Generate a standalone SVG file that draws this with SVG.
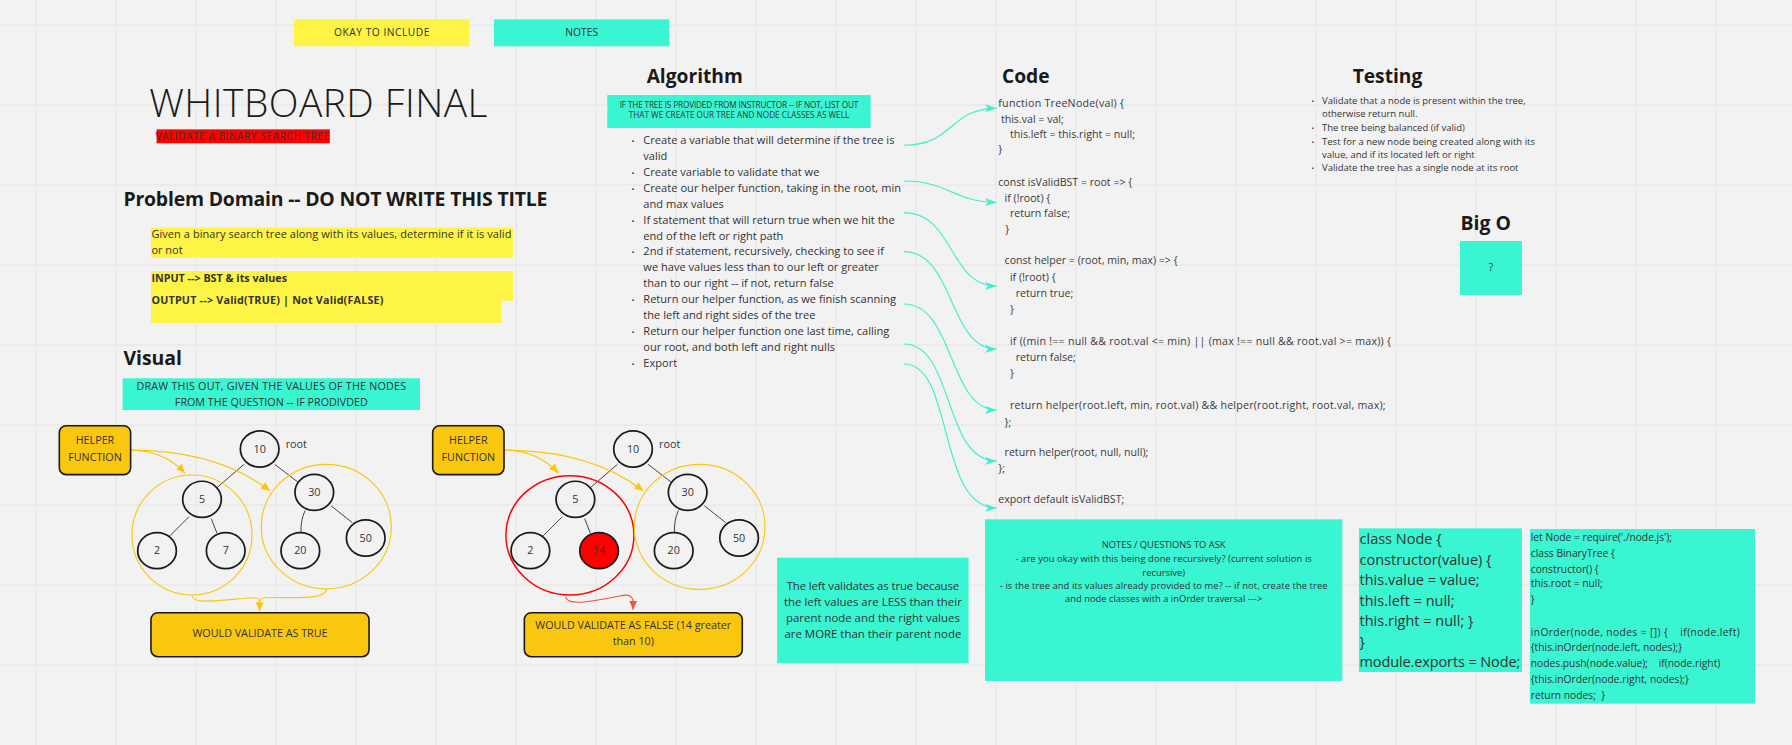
<svg xmlns="http://www.w3.org/2000/svg" width="1792" height="745" viewBox="0 0 1792 745">
<defs>
<style>
.t{font-family:"Open Sans","Liberation Sans",sans-serif;fill:#333}
.h{font-family:"Open Sans","Liberation Sans",sans-serif;font-weight:700;fill:#1a1a1a}
.c{font-family:"Open Sans","Liberation Sans",sans-serif;fill:#3a3a3a;font-size:9.3px}
.m{text-anchor:middle}
.teal{fill:#3af5d2}
.yel{fill:#fef445}
.obox{fill:#fac710;stroke:#1a1a1a;stroke-width:1.4}
.node{fill:none;stroke:#1a1a1a;stroke-width:1.5}
.edge{fill:none;stroke:#333;stroke-width:0.8}
.tc{fill:none;stroke:#3ef0cf;stroke-width:1}
.oc{fill:none;stroke:#fac710;stroke-width:1}
.grid{stroke:#e4e4e4;stroke-width:1}
</style>
<marker id="ah-teal" markerUnits="userSpaceOnUse" markerWidth="12" markerHeight="8" refX="10" refY="3.5" orient="auto">
<path d="M0,0 L10,3.5 L0,7 L2.5,3.5 Z" fill="#3ef0cf"/>
</marker>
<marker id="ah-or" markerUnits="userSpaceOnUse" markerWidth="10" markerHeight="8" refX="8" refY="3.5" orient="auto">
<path d="M0,0 L8,3.5 L0,7 Z" fill="#fac710"/>
</marker>
<marker id="ah-red" markerUnits="userSpaceOnUse" markerWidth="10" markerHeight="8" refX="8" refY="3.5" orient="auto">
<path d="M0,0 L8,3.5 L0,7 Z" fill="#f0533a"/>
</marker>
</defs>
<rect width="1792" height="745" fill="#f2f2f2"/>
<g id="grid" class="grid">
<path d="M36,0V745M116,0V745M196,0V745M276,0V745M356,0V745M436,0V745M516,0V745M596,0V745M676,0V745M756,0V745M836,0V745M916,0V745M996,0V745M1076,0V745M1156,0V745M1236,0V745M1316,0V745M1396,0V745M1476,0V745M1556,0V745M1636,0V745M1716,0V745"/>
<path d="M0,25H1792M0,105H1792M0,185H1792M0,265H1792M0,345H1792M0,425H1792M0,505H1792M0,585H1792M0,665H1792"/>
</g>
<g transform="scale(1.142857)">
<g id="legend-okay">
<rect class="yel" x="257.2" y="16.9" width="153.4" height="23.6"/>
<text class="t m" x="334" y="31.5" font-size="9" textLength="83.4">OKAY TO INCLUDE</text>
</g>
<g id="legend-notes">
<rect class="teal" x="432.2" y="16.9" width="153.4" height="23.6"/>
<text class="t m" x="509" y="31.5" font-size="9">NOTES</text>
</g>
<g id="title">
<text x="130.5" y="102.7" font-family="'Open Sans','Liberation Sans',sans-serif" font-weight="300" font-size="34" fill="#1a1a1a" textLength="296">WHITBOARD FINAL</text>
<rect x="137" y="113.2" width="151.6" height="12.2" fill="#ff0000"/>
<text class="t" x="136" y="122.5" font-size="9" fill="#222" textLength="152">VALIDATE A BINARY SEARCH TREE</text>
</g>
<g id="problem-domain">
<text class="h" x="108" y="180" font-size="17" textLength="371">Problem Domain -- DO NOT WRITE THIS TITLE</text>
<rect class="yel" x="132.1" y="199.2" width="316.8" height="26.3"/>
<text class="t" x="132.5" y="208.5" font-size="9.6" textLength="315">Given a binary search tree along with its values, determine if it is valid</text>
<text class="t" x="132.5" y="222.5" font-size="9.6">or not</text>
<path class="yel" d="M132.1,237.1H448.9V263.1H438.7V282.6H132.1Z"/>
<text class="t" x="132.5" y="246.5" font-size="9.4" font-weight="700" fill="#222">INPUT --&gt; BST &amp; its values</text>
<text class="t" x="132.5" y="265.7" font-size="9.4" font-weight="700" fill="#222" textLength="203">OUTPUT --&gt; Valid(TRUE) | Not Valid(FALSE)</text>
</g>
<g id="visual">
<text class="h" x="108" y="319" font-size="17">Visual</text>
<rect class="teal" x="107.3" y="331" width="260.2" height="27.75"/>
<text class="t m" x="237.4" y="341.25" font-size="9.4" textLength="236">DRAW THIS OUT, GIVEN THE VALUES OF THE NODES</text>
<text class="t m" x="237.4" y="355.25" font-size="9.4">FROM THE QUESTION -- IF PRODIVDED</text>
</g>
<g id="connectors">
<path class="edge" d="M213.5,406.3L189.9,426.7M240.4,406.3L260.5,421.75M165.4,452.1L148.5,469M184.9,453.9L189.9,466.7M266.9,446.8Q263,455 263.4,466M289.6,442.5L308.3,457.3"/>
<path class="edge" d="M540.2,406.3L516.6,426.7M567.1,406.3L587.2,421.75M492.1,452.1L475.2,469M511.6,453.9L516.6,466.7M593.6,446.8Q589.7,455 590.1,466M616.3,442.5L635,457.3"/>
<path class="oc" d="M114.3,393.8C135,394 150,401 161.9,414" marker-end="url(#ah-or)"/>
<path class="oc" d="M114.3,393.8C165,394 205,405 236.3,429.6" marker-end="url(#ah-or)"/>
<path class="oc" d="M441,393.8C461.7,394 476.7,401 488.6,414" marker-end="url(#ah-or)"/>
<path class="oc" d="M441,393.8C491.7,394 531.7,405 563,429.6" marker-end="url(#ah-or)"/>
<path class="oc" d="M168,521.5C169,530 200,524 222,523C226,523 227.2,525 227.2,528L227.2,535" marker-end="url(#ah-or)"/>
<path class="oc" d="M285.5,515.6C285.5,526 250,522 232,523C228,523 227.2,525 227.2,528"/>
<path fill="none" stroke="#f0533a" stroke-width="1" d="M495,522C496,531 520,526 545,521C551,520 554,523 554,526L554,533.5" marker-end="url(#ah-red)"/>
<path class="tc" d="M791,127.1C835,127.1 830,94.8 872,94.8" marker-end="url(#ah-teal)"/>
<path class="tc" d="M791,158.4C830,158.4 835,177 872,177" marker-end="url(#ah-teal)"/>
<path class="tc" d="M791,186.1C835,186.1 830,250.3 872,250.3" marker-end="url(#ah-teal)"/>
<path class="tc" d="M791,220.2C835,220.2 830,305.4 872,305.4" marker-end="url(#ah-teal)"/>
<path class="tc" d="M791,266C835,266 830,358.75 872,358.75" marker-end="url(#ah-teal)"/>
<path class="tc" d="M791,301C835,301 825,403.3 872,403.3" marker-end="url(#ah-teal)"/>
<path class="tc" d="M791,318.5C835,318.5 820,444.5 872,444.5" marker-end="url(#ah-teal)"/>
</g>
<g id="helper-left">
<rect class="obox" x="51.9" y="372.5" width="62.4" height="42.8" rx="6"/>
<text class="t m" x="83.1" y="388.8" font-size="9.4">HELPER</text>
<text class="t m" x="83.1" y="403.1" font-size="9.4">FUNCTION</text>
</g>
<g id="tree-left">
<ellipse class="oc" cx="168" cy="468.1" rx="52.5" ry="52.5" stroke-width="1.3"/>
<ellipse class="oc" cx="285.5" cy="460.8" rx="56.9" ry="54.5" stroke-width="1.3"/>
<g id="l-n10"><ellipse class="node" cx="227.2" cy="392.9" rx="16.9" ry="15.8"/><text class="t m" x="227.2" y="396.2" font-size="9.4">10</text></g>
<text class="t" x="250" y="391.7" font-size="9.4">root</text>
<g id="l-n5"><ellipse class="node" cx="176.75" cy="436.9" rx="16.9" ry="15.8"/><text class="t m" x="176.75" y="440.2" font-size="9.4">5</text></g>
<g id="l-n2"><ellipse class="node" cx="137.4" cy="481.8" rx="16.9" ry="15.8"/><text class="t m" x="137.4" y="485.1" font-size="9.4">2</text></g>
<g id="l-n7"><ellipse class="node" cx="197.5" cy="481.8" rx="16.9" ry="15.8"/><text class="t m" x="197.5" y="485.1" font-size="9.4">7</text></g>
<g id="l-n30"><ellipse class="node" cx="275" cy="430.8" rx="16.9" ry="15.8"/><text class="t m" x="275" y="434.1" font-size="9.4">30</text></g>
<g id="l-n20"><ellipse class="node" cx="262.8" cy="481.8" rx="16.9" ry="15.8"/><text class="t m" x="262.8" y="485.1" font-size="9.4">20</text></g>
<g id="l-n50"><ellipse class="node" cx="320" cy="470.75" rx="16.9" ry="15.8"/><text class="t m" x="320" y="474" font-size="9.4">50</text></g>
</g>
<g id="result-true">
<rect class="obox" x="132.1" y="536.1" width="190.8" height="38.5" rx="6"/>
<text class="t m" x="227.5" y="557.6" font-size="9.4">WOULD VALIDATE AS TRUE</text>
</g>
<g id="helper-right">
<rect class="obox" x="378.6" y="372.5" width="62.4" height="42.8" rx="6"/>
<text class="t m" x="409.8" y="388.8" font-size="9.4">HELPER</text>
<text class="t m" x="409.8" y="403.1" font-size="9.4">FUNCTION</text>
</g>
<g id="tree-right">
<ellipse cx="498.7" cy="468.4" rx="56" ry="52.2" fill="none" stroke="#ff0000" stroke-width="1.3"/>
<ellipse class="oc" cx="612.2" cy="461" rx="57.2" ry="54.7" stroke-width="1.3"/>
<g id="r-n10"><ellipse class="node" cx="553.9" cy="392.9" rx="16.9" ry="15.8"/><text class="t m" x="553.9" y="396.2" font-size="9.4">10</text></g>
<text class="t" x="576.7" y="391.7" font-size="9.4">root</text>
<g id="r-n5"><ellipse class="node" cx="503.45" cy="436.9" rx="16.9" ry="15.8"/><text class="t m" x="503.45" y="440.2" font-size="9.4">5</text></g>
<g id="r-n2"><ellipse class="node" cx="464.1" cy="481.8" rx="16.9" ry="15.8"/><text class="t m" x="464.1" y="485.1" font-size="9.4">2</text></g>
<g id="r-n14"><ellipse class="node" cx="524.2" cy="481.8" rx="16.9" ry="15.8" style="fill:#ff0000"/><text class="t m" x="524.2" y="485.1" font-size="9.4">14</text></g>
<g id="r-n30"><ellipse class="node" cx="601.7" cy="430.8" rx="16.9" ry="15.8"/><text class="t m" x="601.7" y="434.1" font-size="9.4">30</text></g>
<g id="r-n20"><ellipse class="node" cx="589.5" cy="481.8" rx="16.9" ry="15.8"/><text class="t m" x="589.5" y="485.1" font-size="9.4">20</text></g>
<g id="r-n50"><ellipse class="node" cx="646.7" cy="470.75" rx="16.9" ry="15.8"/><text class="t m" x="646.7" y="474" font-size="9.4">50</text></g>
</g>
<g id="result-false">
<rect class="obox" x="458.8" y="536.1" width="190.7" height="38.5" rx="6"/>
<text class="t m" x="554.1" y="550.7" font-size="9.4">WOULD VALIDATE AS FALSE (14 greater</text>
<text class="t m" x="554.1" y="564.4" font-size="9.4">than 10)</text>
</g>
<g id="explain">
<rect class="teal" x="680" y="488" width="167.5" height="92.4"/>
<text class="t m" x="763.8" y="516.5" font-size="10" textLength="151">The left validates as true because</text>
<text class="t m" x="763.8" y="530" font-size="10">the left values are LESS than their</text>
<text class="t m" x="763.8" y="544" font-size="10">parent node and the right values</text>
<text class="t m" x="763.8" y="558" font-size="10">are MORE than their parent node</text>
</g>
<g id="algorithm">
<text class="h" x="565.8" y="72.9" font-size="16.8">Algorithm</text>
<rect class="teal" x="531.4" y="83.1" width="230.4" height="28.9"/>
<text class="t m" x="646.6" y="94.2" font-size="7.2" textLength="208.8">IF THE TREE IS PROVIDED FROM INSTRUCTOR -- IF NOT, LIST OUT</text>
<text class="t m" x="646.6" y="103.25" font-size="7.2">THAT WE CREATE OUR TREE AND NODE CLASSES AS WELL</text>
<g class="t" font-size="9.7">
<text x="552.5" y="126.3" font-size="7">•</text>
<text x="562.9" y="126.3">Create a variable that will determine if the tree is</text>
<text x="562.9" y="140.3">valid</text>
<text x="552.5" y="154" font-size="7">•</text>
<text x="562.9" y="154">Create variable to validate that we</text>
<text x="552.5" y="168" font-size="7">•</text>
<text x="562.9" y="168" textLength="225.5">Create our helper function, taking in the root, min</text>
<text x="562.9" y="182">and max values</text>
<text x="552.5" y="196" font-size="7">•</text>
<text x="562.9" y="196">If statement that will return true when we hit the</text>
<text x="562.9" y="210">end of the left or right path</text>
<text x="552.5" y="223.4" font-size="7">•</text>
<text x="562.9" y="223.4">2nd if statement, recursively, checking to see if</text>
<text x="562.9" y="237.4">we have values less than to our left or greater</text>
<text x="562.9" y="251.1">than to our right -- if not, return false</text>
<text x="552.5" y="265.1" font-size="7">•</text>
<text x="562.9" y="265.1">Return our helper function, as we finish scanning</text>
<text x="562.9" y="279.1">the left and right sides of the tree</text>
<text x="552.5" y="293.1" font-size="7">•</text>
<text x="562.9" y="293.1">Return our helper function one last time, calling</text>
<text x="562.9" y="306.8">our root, and both left and right nulls</text>
<text x="552.5" y="321.1" font-size="7">•</text>
<text x="562.9" y="321.1">Export</text>
</g>
</g>
<g id="code">
<text class="h" x="876.7" y="72.4" font-size="16.8">Code</text>
<text class="c" x="873.5" y="93.4" textLength="110">function TreeNode(val) {</text>
<text class="c" x="875.8" y="107.5">this.val = val;</text>
<text class="c" x="883.7" y="121.05">this.left = this.right = null;</text>
<text class="c" x="873.5" y="134.2">}</text>
<text class="c" x="873.5" y="162.4">const isValidBST = root =&gt; {</text>
<text class="c" x="879" y="176.5">if (!root) {</text>
<text class="c" x="883.7" y="190.2">return false;</text>
<text class="c" x="879.5" y="204.2">}</text>
<text class="c" x="879" y="231.2">const helper = (root, min, max) =&gt; {</text>
<text class="c" x="883.7" y="245.8">if (!root) {</text>
<text class="c" x="888.7" y="259.6">return true;</text>
<text class="c" x="883.7" y="274.2">}</text>
<text class="c" x="883.7" y="301.9" textLength="333.4">if ((min !== null &amp;&amp; root.val &lt;= min) || (max !== null &amp;&amp; root.val &gt;= max)) {</text>
<text class="c" x="888.7" y="315.6">return false;</text>
<text class="c" x="883.7" y="330.2">}</text>
<text class="c" x="883.7" y="357.9" textLength="328.7">return helper(root.left, min, root.val) &amp;&amp; helper(root.right, root.val, max);</text>
<text class="c" x="879" y="372.4">};</text>
<text class="c" x="879" y="399">return helper(root, null, null);</text>
<text class="c" x="873.5" y="413">};</text>
<text class="c" x="873.5" y="440.4">export default isValidBST;</text>
</g>
<g id="testing">
<text class="h" x="1183.6" y="72.4" font-size="16.8">Testing</text>
<g class="t" font-size="8.3">
<text x="1147.5" y="91" font-size="6">•</text>
<text x="1156.75" y="91">Validate that a node is present within the tree,</text>
<text x="1156.75" y="102.7">otherwise return null.</text>
<text x="1147.5" y="114.4" font-size="6">•</text>
<text x="1156.75" y="114.4">The tree being balanced (if valid)</text>
<text x="1147.5" y="126.6" font-size="6">•</text>
<text x="1156.75" y="126.6" textLength="186.4">Test for a new node being created along with its</text>
<text x="1156.75" y="138.6">value, and if its located left or right</text>
<text x="1147.5" y="149.9" font-size="6">•</text>
<text x="1156.75" y="149.9">Validate the tree has a single node at its root</text>
</g>
</g>
<g id="big-o">
<text class="h" x="1278" y="201.25" font-size="17">Big O</text>
<rect class="teal" x="1277.5" y="210.9" width="54.2" height="47.2"/>
<text class="t m" x="1304.6" y="236.9" font-size="9">?</text>
</g>
<g id="notes-questions">
<rect class="teal" x="861.9" y="454.4" width="312.6" height="141.5"/>
<text class="t m" x="1018.2" y="479.8" font-size="8.2">NOTES / QUESTIONS TO ASK</text>
<text class="t m" x="1018.2" y="491.4" font-size="8.2" textLength="259.3">- are you okay with this being done recursively? (current solution is</text>
<text class="t m" x="1018.2" y="503.7" font-size="8.2">recursive)</text>
<text class="t m" x="1018.2" y="515.3" font-size="8.2" textLength="286.7">- is the tree and its values already provided to me? -- if not, create the tree</text>
<text class="t m" x="1018.2" y="527" font-size="8.2">and node classes with a inOrder traversal ---&gt;</text>
</g>
<g id="class-node">
<rect class="teal" x="1189.1" y="462.3" width="142.6" height="125.7"/>
<g class="t" font-size="12.7">
<text x="1189.6" y="476.3">class Node {</text>
<text x="1189.6" y="494.7">constructor(value) {</text>
<text x="1189.6" y="512.2">this.value = value;</text>
<text x="1189.6" y="530">this.left = null;</text>
<text x="1189.6" y="547.75">this.right = null; }</text>
<text x="1189.6" y="565.8">}</text>
<text x="1189.6" y="583.7" textLength="140.6">module.exports = Node;</text>
</g>
</g>
<g id="class-binarytree">
<rect class="teal" x="1338.7" y="462.9" width="196.9" height="152.8"/>
<g class="t" font-size="9">
<text x="1339.4" y="473.1">let Node = require('./node.js');</text>
<text x="1339.4" y="487">class BinaryTree {</text>
<text x="1339.4" y="501">constructor() {</text>
<text x="1339.4" y="513.9">this.root = null;</text>
<text x="1339.4" y="527.9">}</text>
<text x="1339.4" y="556.2" textLength="182.9" xml:space="preserve">inOrder(node, nodes = []) {    if(node.left)</text>
<text x="1339.4" y="569.9">{this.inOrder(node.left, nodes);}</text>
<text x="1339.4" y="583.9" xml:space="preserve">nodes.push(node.value);    if(node.right)</text>
<text x="1339.4" y="597.9">{this.inOrder(node.right, nodes);}</text>
<text x="1339.4" y="611.6" xml:space="preserve">return nodes;  }</text>
</g>
</g>
</g>
</svg>
